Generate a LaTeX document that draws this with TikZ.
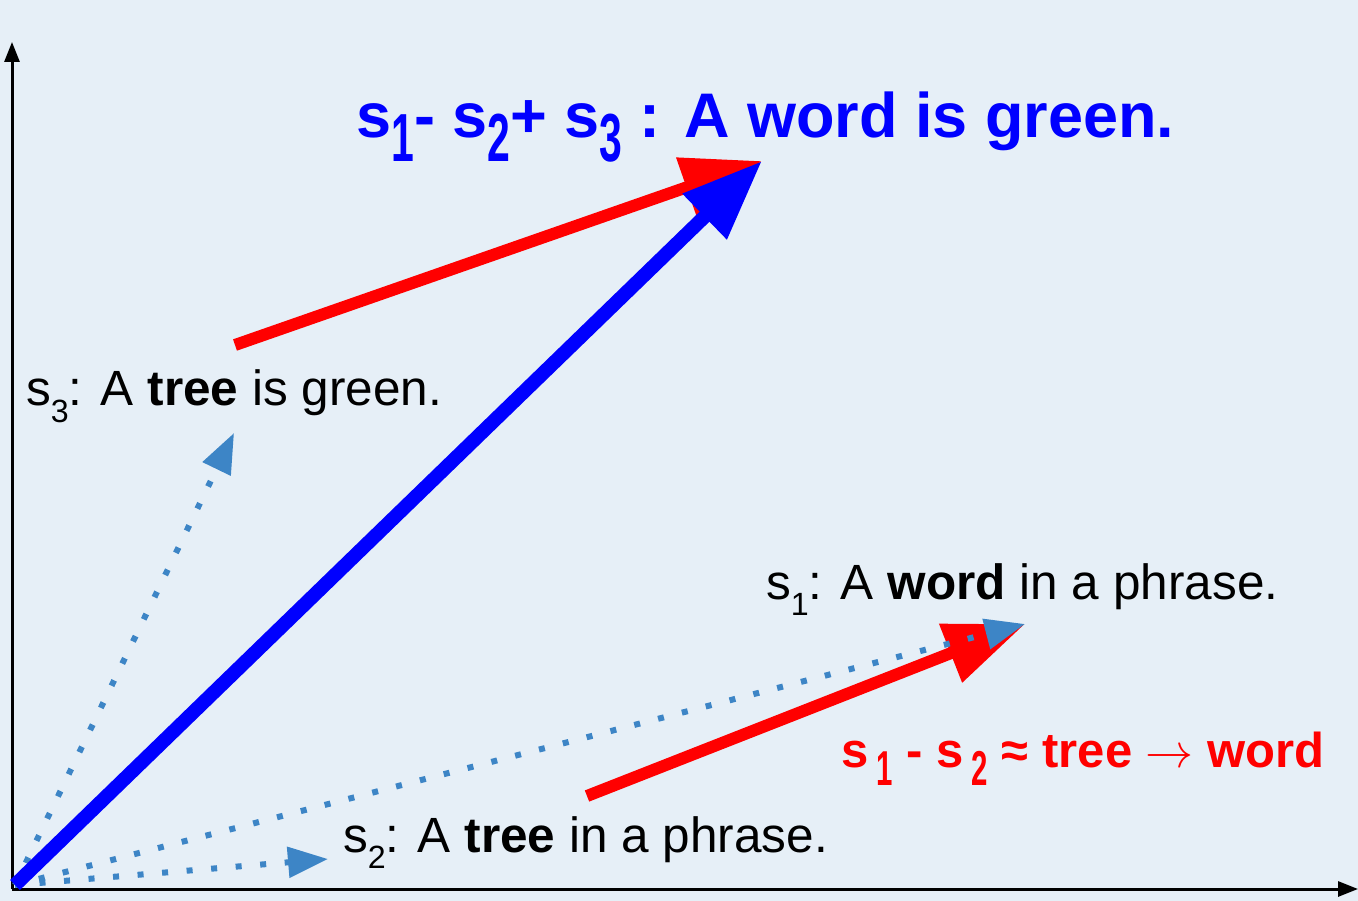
\documentclass[tikz,border=0pt]{standalone}
\usepackage{fontspec}
\setmainfont{Liberation Sans}
\usepackage{graphicx}
\usetikzlibrary{arrows.meta}
\definecolor{bgblue}{RGB}{230,239,247}
\definecolor{dotblue}{RGB}{61,133,198}
\newcommand{\lowsub}[4]{\raisebox{-#3em}{\scalebox{#1}[#2]{#4}}}

\begin{document}
\begin{tikzpicture}[x=1pt,y=-1pt]
    \tikzstyle{axis}=[line width=3pt,-{Triangle[length=20pt,width=15pt]}]
    \tikzstyle{dotvec}=[dotblue,line width=6pt,dash pattern=on 6pt off 18.6pt,-{Triangle[length=40pt,width=30pt]}]
    \tikzstyle{bigvec}=[-{Triangle[length=80pt,width=60pt]}]
    \tikzstyle{lbl}=[anchor=base west,inner sep=0pt,font=\fontsize{49.5}{56}\selectfont]
    \path[use as bounding box,fill=bgblue] (0,0) rectangle (1358,901);
    \coordinate (origin) at (15,885);
    \coordinate (axisO) at (12,889);
    \coordinate (yEnd) at (12,42);
    \coordinate (xEnd) at (1358,889);
    \coordinate (sOneTip) at (1025,624);
    \coordinate (sTwoTip) at (328,859);
    \coordinate (sThreeTip) at (234,433);
    \coordinate (sumTip) at (762,161);
    \coordinate (diffLow) at (587,796);
    \coordinate (diffHigh) at (235,345);
    \draw[axis] (axisO) -- (yEnd);
    \draw[axis] (axisO) -- (xEnd);
    \draw[bigvec,red,line width=12pt] (diffLow) -- (sOneTip);
    \draw[dotvec] (origin) -- (sTwoTip);
    \draw[dotvec] (origin) -- (sThreeTip);
    \draw[dotvec] (origin) -- (sOneTip);
    \draw[bigvec,red,line width=12pt] (diffHigh) -- (sumTip);
    \draw[bigvec,blue,line width=14pt] (origin) -- (sumTip);
    \node[lbl] (sThree) at (26,406) {s\lowsub{0.65}{0.65}{0.33}{3}: A \textbf{tree} is green.};
    \node[lbl] (sOne) at (766,599) {s\lowsub{0.65}{0.65}{0.33}{1}: A \textbf{word} in a phrase.};
    \node[lbl] (sTwo) at (343,852) {s\lowsub{0.65}{0.65}{0.33}{2}: A \textbf{tree} in a phrase.};
    \node[lbl,text=blue,font=\fontsize{63}{70}\selectfont\bfseries] (title) at (356,138)
      {s\lowsub{0.65}{1.08}{0.37}{1}- s\lowsub{0.65}{1.08}{0.37}{2}+ s\lowsub{0.65}{1.08}{0.37}{3} : A word is green.};
    \node[lbl,text=red,font=\fontsize{49}{56}\selectfont\bfseries] (diffLabel) at (841,767)
      {s\,\lowsub{0.6}{1}{0.37}{1} - s\,\lowsub{0.6}{1}{0.37}{2} ≈ tree \resizebox{48pt}{!}{$\rightarrow$} word};
\end{tikzpicture}
\end{document}
